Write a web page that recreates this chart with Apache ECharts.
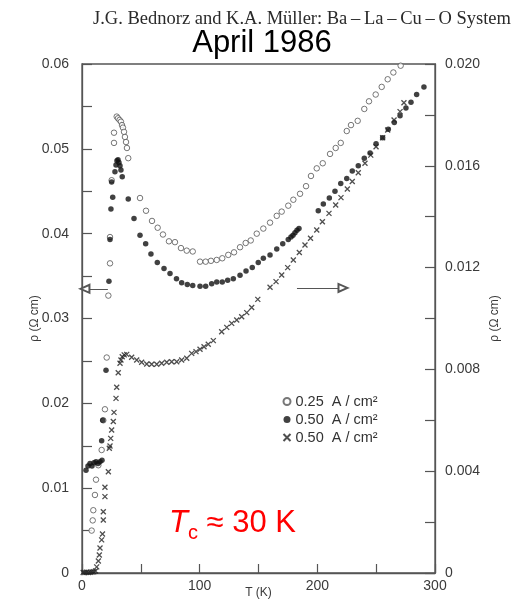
<!DOCTYPE html>
<html>
<head>
<meta charset="utf-8">
<script src="https://cdn.jsdelivr.net/npm/echarts@6/dist/echarts.min.js"></script>
<style>
  html, body { margin: 0; padding: 0; background: #fff; }
  #chart { width: 524px; height: 602px; }
</style>
</head>
<body>
<div id="chart"></div>
<script>
// Resistivity vs temperature, Ba-La-Cu-O sample.
// Open circles: 0.25 A/cm2 (left axis); filled circles: 0.50 A/cm2 (left axis);
// crosses: 0.50 A/cm2 (right axis).

const tOpen = [8.2, 9.1, 9.6, 11.0, 11.9, 13.9, 16.7, 18.1, 19.5, 21.0, 22.4, 23.8, 23.8, 25.2, 27.2, 27.2, 29.5,
  30.6, 31.9, 33.1, 34.0, 34.8, 35.7, 36.5, 37.4, 38.2, 39.3,
  49.3, 54.4, 59.5, 64.3, 68.8, 73.9, 79.0, 84.1, 89.0, 94.1, 100.3, 105.1, 109.6, 114.5, 119.2, 124.3,
  129.2, 134.3, 139.1, 143.4, 148.5, 154.1, 159.8, 165.5, 169.7, 175.3, 179.6, 185.3, 190.4, 194.6,
  199.5, 204.6, 210.8, 215.6, 219.9, 225.0, 228.6, 234.3, 239.9, 243.9, 249.6, 254.7, 259.8, 264.6, 270.8];
const rhoOpen = [0.0050, 0.0062, 0.0074, 0.0092, 0.0110, 0.0127, 0.0145, 0.0180, 0.0193, 0.0254, 0.0327, 0.0365, 0.0396, 0.0463, 0.0507, 0.0519, 0.0538,
  0.0536, 0.0534, 0.0532, 0.0528, 0.0525, 0.0520, 0.0514, 0.0508, 0.0501, 0.0489,
  0.0442, 0.0427, 0.0415, 0.0407, 0.0399, 0.0391, 0.0390, 0.0383, 0.0380, 0.0379, 0.0367, 0.0367, 0.0368, 0.0369, 0.0371, 0.0375,
  0.0378, 0.0384, 0.0389, 0.0392, 0.0400, 0.0406, 0.0413, 0.0421, 0.0426, 0.0433, 0.0440, 0.0447, 0.0456, 0.0468,
  0.0477, 0.0483, 0.0494, 0.0501, 0.0507, 0.0521, 0.0528, 0.0533, 0.0547, 0.0556, 0.0564, 0.0573, 0.0582, 0.0590, 0.0598];

const tFilled = [3.4, 5.1, 6.8, 8.5, 10.2, 11.9, 13.6, 15.3, 17.0, 16.7, 17.6, 20.4, 22.9, 23.8, 24.6, 26.1, 25.2,
  28.0, 28.9, 29.7, 30.6, 31.4, 32.3, 33.1, 34.2, 39.3, 44.2, 49.3, 54.1, 58.6, 64.0, 69.7, 74.8, 80.3,
  84.7, 89.5, 94.1, 100.3, 105.1, 110.2, 114.5, 119.2, 123.8, 128.6, 134.3, 139.4, 144.7, 149.8, 154.1,
  159.8, 165.5, 170.6, 175.3, 177.6, 179.3, 181.0, 182.7, 184.4,
  200.8, 205.1, 210.2, 215.0, 219.9, 225.0, 229.7, 234.8, 239.9, 244.8, 249.9, 255.5, 260.3, 265.4,
  270.3, 275.3, 279.6, 284.4, 290.6];
const rhoFilled = [0.0121, 0.0126, 0.0129, 0.0126, 0.0130, 0.0131, 0.0129, 0.0131, 0.0133, 0.0156, 0.0180, 0.0239, 0.0344, 0.0393, 0.0429, 0.0443, 0.0461,
  0.0473, 0.0481, 0.0486, 0.0487, 0.0484, 0.0480, 0.0475, 0.0467, 0.0441, 0.0418, 0.0398, 0.0388, 0.0376, 0.0366, 0.0359, 0.0353, 0.0347,
  0.0342, 0.0340, 0.0339, 0.0338, 0.0338, 0.0341, 0.0343, 0.0343, 0.0345, 0.0347, 0.0351, 0.0356, 0.0360, 0.0366, 0.0371,
  0.0375, 0.0382, 0.0388, 0.0393, 0.0396, 0.0398, 0.0401, 0.0404, 0.0406,
  0.0427, 0.0435, 0.0442, 0.0450, 0.0459, 0.0465, 0.0474, 0.0480, 0.0489, 0.0495, 0.0506, 0.0513, 0.0523, 0.0531,
  0.0539, 0.0548, 0.0555, 0.0564, 0.0573];

const tCross = [1.0, 2.5, 4.0, 5.5, 7.0, 8.5, 10.0, 11.5, 12.5, 13.9, 14.7, 15.3, 16.7, 17.4, 18.1, 18.1, 19.5, 19.5,
  22.4, 23.2, 23.8, 24.4, 25.2, 26.6, 27.2, 28.9, 29.5, 30.8, 32.3, 33.1, 34.2, 35.9, 38.0,
  42.2, 46.5, 50.7, 55.0, 59.2, 63.5, 67.7, 72.0, 76.2, 80.5, 84.7, 89.0, 93.2, 96.9, 100.3, 103.7,
  107.3, 111.6, 118.7, 123.0, 127.2, 131.5, 135.7, 140.0, 144.2, 149.4, 159.8, 164.9, 169.7, 174.8,
  179.6, 184.7, 189.5, 194.2, 199.5, 204.3, 209.9, 215.6, 220.1, 225.5, 229.7, 234.8, 240.5, 245.4,
  249.9, 255.5, 259.8, 265.2, 270.3, 273.6];
const rhoCross = [0.00002, 0.00002, 0.00003, 0.00002, 0.00003, 0.00004, 0.00005, 0.00008, 0.00024, 0.00047, 0.00071, 0.00098, 0.00130, 0.00153, 0.00208, 0.00241, 0.00300, 0.00337,
  0.00398, 0.00490, 0.00499, 0.00529, 0.00562, 0.00595, 0.00631, 0.00686, 0.00730, 0.00787, 0.00824, 0.00837, 0.00850, 0.00857, 0.00859,
  0.00848, 0.00837, 0.00828, 0.00821, 0.00820, 0.00820, 0.00824, 0.00828, 0.00830, 0.00830, 0.00837, 0.00844, 0.00863, 0.00870, 0.00879, 0.00889,
  0.00899, 0.00913, 0.00948, 0.00965, 0.00981, 0.00994, 0.01007, 0.01023, 0.01043, 0.01075, 0.01123, 0.01145, 0.01171, 0.01200,
  0.01230, 0.01259, 0.01289, 0.01315, 0.01348, 0.01380, 0.01413, 0.01446, 0.01475, 0.01509, 0.01538, 0.01573, 0.01610, 0.01642,
  0.01675, 0.01710, 0.01741, 0.01780, 0.01813, 0.01848];

const legendLabels = ['0.25  A / cm\u00b2', '0.50  A / cm\u00b2', '0.50  A / cm\u00b2'];
const seriesIds = ['j025', 'j050', 'j050x'];

const xTickLabels = [0, 100, 200, 300];
const leftTickLabels = [0, 0.01, 0.02, 0.03, 0.04, 0.05, 0.06];
const rightTickLabels = [0, 0.004, 0.008, 0.012, 0.016, 0.020];

const zip = (a, b) => a.map((v, i) => [v, b[i]]);
const near = (v, list) => list.some(x => Math.abs(x - v) < 1e-9);

const SANS = '"Liberation Sans", Arial, sans-serif';
const INK = '#3a3a3a';
const crossPath = 'path://M0,0L10,10M0,10L10,0';

const chart = echarts.init(document.getElementById('chart'), null, { renderer: 'canvas' });

chart.setOption({
  backgroundColor: '#fff',
  animation: false,
  title: [
    {
      text: 'J.G. Bednorz and K.A. Müller: Ba\u2009\u2013\u2009La\u2009\u2013\u2009Cu\u2009\u2013\u2009O System',
      left: 88, top: 5,
      textStyle: { fontFamily: '"Liberation Serif", "Times New Roman", serif', fontWeight: 'normal', fontSize: 18.5, color: '#2a2a2a' }
    },
    {
      text: 'April 1986',
      left: 'center', top: 23,
      textStyle: { fontFamily: SANS, fontWeight: 'normal', fontSize: 31, color: '#000' }
    },
    {
      text: '{t|T}{c|c}{r| \u2248 30 K}',
      left: 164, top: 498,
      textStyle: {
        fontWeight: 'normal',
        rich: {
          t: { fontFamily: SANS, fontStyle: 'italic', fontWeight: 'normal', fontSize: 31, color: '#ff0000', lineHeight: 40 },
          c: { fontFamily: SANS, fontWeight: 'normal', fontSize: 20, color: '#ff0000', lineHeight: 20, verticalAlign: 'bottom' },
          r: { fontFamily: SANS, fontWeight: 'normal', fontSize: 31, color: '#ff0000', lineHeight: 40 }
        }
      }
    }
  ],
  legend: {
    orient: 'vertical',
    left: 281, top: 394,
    itemWidth: 7, itemHeight: 7, itemGap: 3,
    padding: 0,
    data: seriesIds,
    formatter: name => legendLabels[seriesIds.indexOf(name)],
    textStyle: { fontFamily: SANS, fontSize: 14.5, color: '#333', lineHeight: 15 }
  },
  grid: {
    left: 82, right: 89, top: 64, bottom: 29,
    outerBoundsMode: 'none',
    containLabel: false,
    show: true, borderColor: '#555', borderWidth: 1.3, backgroundColor: 'transparent'
  },
  xAxis: {
    type: 'value', min: 0, max: 300, interval: 50,
    name: 'T (K)', nameLocation: 'middle', nameGap: 14,
    nameMoveOverlap: false,
    nameTextStyle: { fontFamily: SANS, fontSize: 12, color: INK },
    axisLine: { show: true, lineStyle: { color: '#555', width: 1.3 } },
    axisTick: { show: true, inside: true, length: 9, lineStyle: { color: '#555', width: 1.2 } },
    axisLabel: {
      margin: 6, fontFamily: SANS, fontSize: 14, color: INK,
      formatter: v => near(v, xTickLabels) ? String(v) : ''
    },
    splitLine: { show: false }
  },
  yAxis: [
    {
      type: 'value', position: 'left', min: 0, max: 0.06, interval: 0.005,
      name: '\u03c1 (\u03a9 cm)', nameLocation: 'middle', nameRotate: 90, nameGap: 41,
      nameMoveOverlap: false,
      nameTextStyle: { fontFamily: SANS, fontSize: 12, color: INK },
      axisLine: { show: true, lineStyle: { color: '#555', width: 1.3 } },
      axisTick: { show: true, inside: true, length: 10, lineStyle: { color: '#555', width: 1.2 } },
      axisLabel: {
        margin: 13, fontFamily: SANS, fontSize: 14, color: INK,
        formatter: v => near(v, leftTickLabels) ? (v === 0 ? '0' : v.toFixed(2)) : ''
      },
      splitLine: { show: false }
    },
    {
      type: 'value', position: 'right', min: 0, max: 0.02, interval: 0.002,
      name: '\u03c1 (\u03a9 cm)', nameLocation: 'middle', nameRotate: 90, nameGap: 54,
      nameMoveOverlap: false,
      nameTextStyle: { fontFamily: SANS, fontSize: 12, color: INK },
      axisLine: { show: true, lineStyle: { color: '#555', width: 1.3 } },
      axisTick: { show: true, inside: true, length: 10, lineStyle: { color: '#555', width: 1.2 } },
      axisLabel: {
        margin: 10, fontFamily: SANS, fontSize: 14, color: INK,
        formatter: v => near(v, rightTickLabels) ? (v === 0 ? '0' : v.toFixed(3)) : ''
      },
      splitLine: { show: false }
    }
  ],
  series: [
    {
      id: 'j025', name: 'j025', type: 'scatter', yAxisIndex: 0,
      data: zip(tOpen, rhoOpen),
      symbol: 'circle', symbolSize: 5.5,
      itemStyle: { color: '#fff', borderColor: '#555', borderWidth: 1 },
      markLine: {
        silent: true,
        symbol: ['emptyTriangle', 'none'],
        symbolSize: [8, 9],
        label: { show: false },
        lineStyle: { color: '#555', width: 1, type: 'solid' },
        data: [
          [{ coord: [2.5, 0.0335] }, { coord: [22, 0.0335] }],
          [{ coord: [221.8, 0.0336] }, { coord: [182.7, 0.0336] }]
        ]
      }
    },
    {
      id: 'j050', name: 'j050', type: 'scatter', yAxisIndex: 0,
      data: zip(tFilled, rhoFilled),
      symbol: 'circle', symbolSize: 5.5,
      itemStyle: { color: '#111' }
    },
    {
      id: 'j050x', name: 'j050x', type: 'scatter', yAxisIndex: 1,
      data: zip(tCross, rhoCross),
      symbol: crossPath, symbolSize: 5,
      itemStyle: { color: 'none', borderColor: '#222', borderWidth: 1.3 }
    }
  ]
});
</script>
</body>
</html>
